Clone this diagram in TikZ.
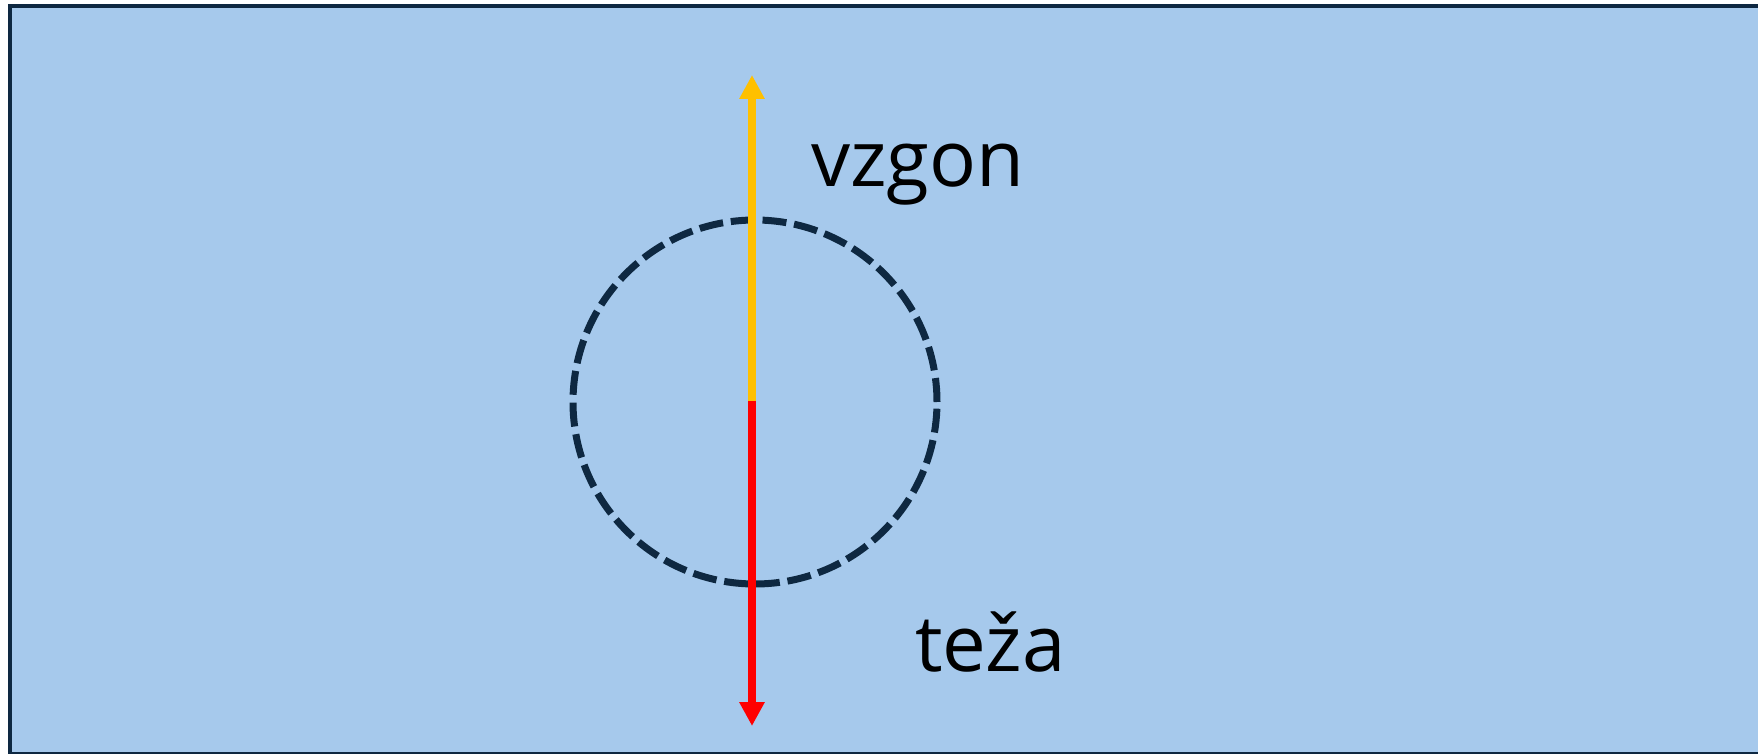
\documentclass[tikz,border=0pt]{standalone}
\usepackage{fontspec}
\setmainfont{Open Sans}
\usetikzlibrary{arrows.meta}
\definecolor{vodaM}{RGB}{166,201,236}
\definecolor{temnoM}{RGB}{14,40,65}
\definecolor{rumenaS}{RGB}{255,192,0}
\definecolor{rdecaS}{RGB}{255,0,0}

\begin{document}
\begin{tikzpicture}[x=0.5pt, y=-0.5pt,
    voda/.style={draw=temnoM, line width=2pt, fill=vodaM},
    telo/.style={circle, draw=temnoM, line width=3.5pt,
      dash pattern=on 12pt off 3.9pt, minimum size=182pt, inner sep=0pt},
    arr/.style={-{Triangle[width=12pt, length=12pt]}, line width=4pt},
    napis/.style={anchor=base west, inner sep=0pt, font=\fontsize{39}{45}\selectfont}]
    \useasboundingbox (0,0) rectangle (1758,754);
    \draw[voda] (9.5,6) rectangle (1770,754);
    \node[telo] (kroglica) at (755,402) {};
    \coordinate (sred) at (752,401);
    \coordinate (gor) at (752,75);
    \coordinate (dol) at (752,726);
    \draw[arr, rumenaS] (sred) -- (gor);
    \draw[arr, rdecaS] (sred) -- (dol);
    \node[napis] (vzgon) at (811,187) {vzgon};
    \node[napis] (teza) at (915,671) {teža};
  \end{tikzpicture}
\end{document}
